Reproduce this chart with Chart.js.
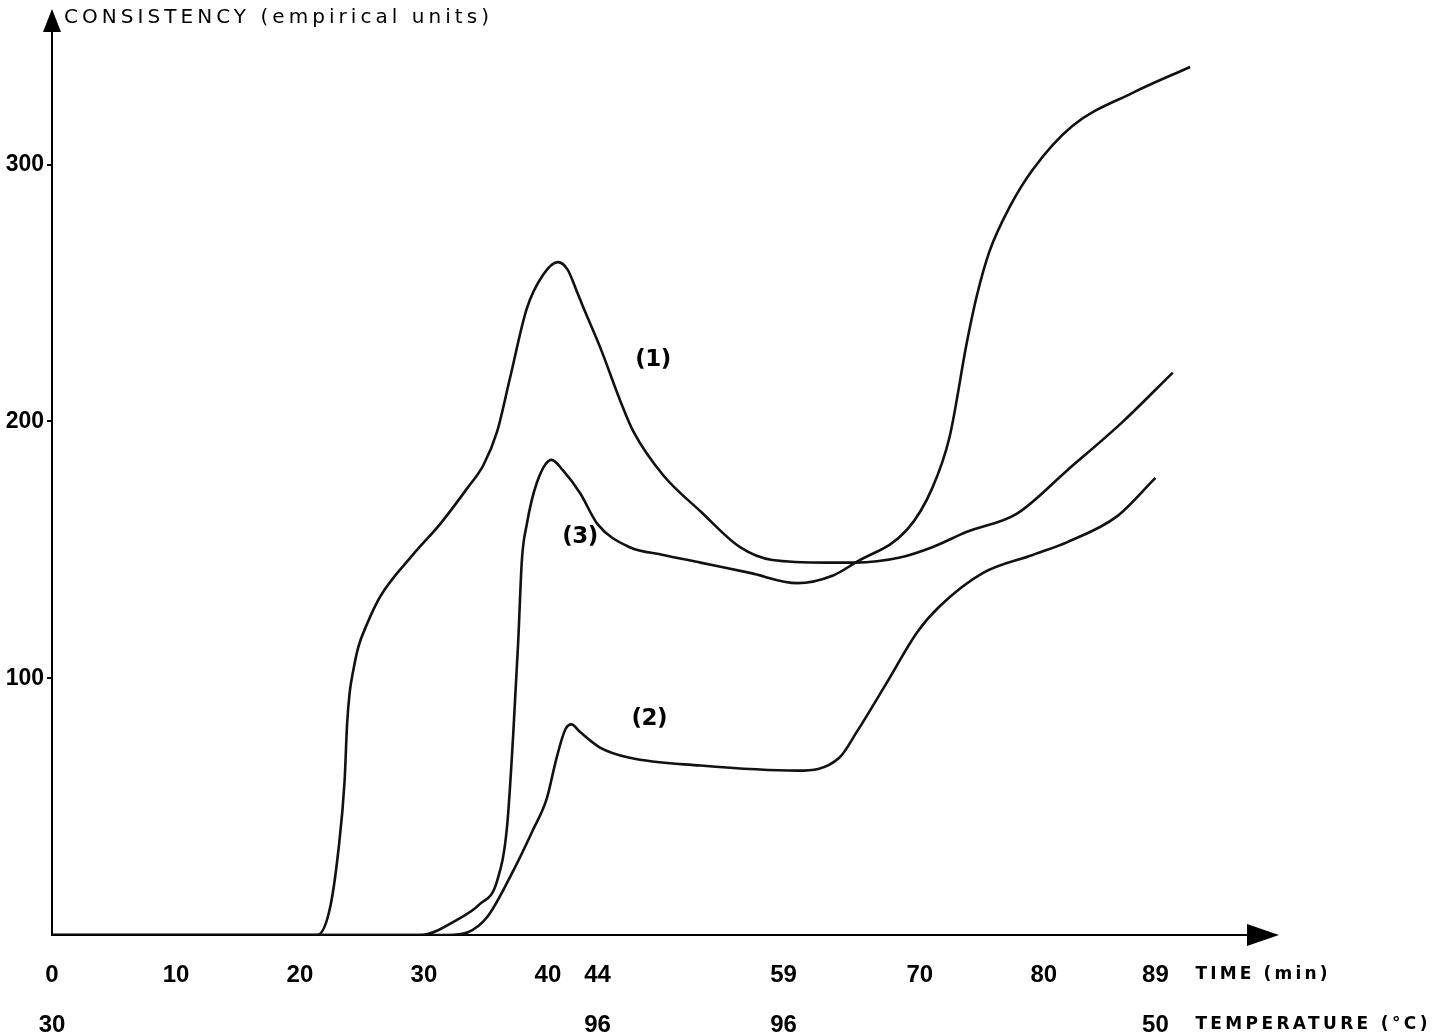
<!DOCTYPE html>
<html>
<head>
<meta charset="utf-8">
<title>Consistency curves</title>
<script src="https://cdn.jsdelivr.net/npm/chart.js@4.4.1/dist/chart.umd.min.js"></script>
<style>
    html, body { margin: 0; padding: 0; background: #fff; overflow: hidden; }
    #wrap { width: 1434px; height: 1036px; }
</style>
</head>
<body>
<div id="wrap"><canvas id="consistency-chart" width="1434" height="1036"></canvas></div>
<script>
    "use strict";

    // Axis ticks
    var timeTicks = [0, 10, 20, 30, 40, 44, 59, 70, 80, 89];
    var tempTicks = ["30", "", "", "", "", "96", "96", "", "", "50"];
    var consistencyTicks = [100, 200, 300];

    // Curve (1)
    var curve1Time = [0, 21.4, 22.4, 23.1, 23.6, 23.8, 24.0, 24.3, 24.7, 25.4, 26.5, 29.1, 31.3, 33.5, 34.8, 35.9, 36.9, 38.3, 39.6, 40.8,
        41.6, 42.3, 42.8, 44.2, 46.0, 46.9, 49.3, 52.3, 55.5, 58.1, 62.5, 64.8, 68.4, 71.0, 73.8, 77.8, 81.9, 86.4, 90.4];
    var curve1Value = [0, 0, 10, 33, 60, 82, 94, 103, 112, 121, 132, 148, 160, 174, 183, 196, 216, 244, 257, 262,
        259, 251, 245, 229, 206, 196, 179, 165, 151, 146, 145, 145, 147, 151, 157, 164, 181, 200, 219];

    // Curve (2)
    var curve2Time = [0, 31.9, 33.5, 35.1, 37.2, 38.8, 39.9, 40.7, 41.4, 41.9, 42.6, 44.2, 46.6, 52.3, 60.1, 63.5, 64.9, 67.3, 69.8, 71.6,
        75.1, 79.1, 81.9, 85.9, 89.0];
    var curve2Value = [0, 0, 1, 7, 25, 41, 53, 69, 80, 82, 79, 73, 69, 66, 64, 69, 79, 98, 118, 128,
        141, 148, 153, 163, 178];

    // Curve (3)
    var curve3Time = [0, 29.7, 32.7, 34.5, 35.9, 36.7, 37.2, 37.6, 37.9, 38.3, 39.1, 40.3, 41.2, 42.6, 44.0, 46.6, 49.3, 52.3, 56.3, 60.1,
        63.0, 64.8, 69.0, 71.0, 72.4, 73.8, 74.6, 75.6, 77.3, 79.1, 82.3, 87.2, 91.8];
    var curve3Value = [0, 0, 6, 12, 21, 42, 78, 114, 146, 160, 176, 185, 181, 172, 160, 151, 148, 145, 141, 137,
        140, 145, 158, 174, 194, 231, 249, 266, 284, 298, 315, 328, 338];

    // Curve labels (placed in data units)
    var curveLabels = ["(1)", "(2)", "(3)"];
    var curveLabelTime = [48.5, 48.2, 42.6];
    var curveLabelValue = [224, 84, 155];

    var labelFont = "'Liberation Sans', Arial, sans-serif";
    var tickPadding = 15;
    var tickLineHeight = 50;

    function toPoints(times, values) {
        return times.map(function (t, i) {
            return { x: t, y: values[i] };
        });
    }

    // Text stretched to a given width with letter spacing
    function drawSpaced(ctx, text, x, y, width) {
        ctx.letterSpacing = "0px";
        var w = ctx.measureText(text).width;
        var spacing = (width - w) / Math.max(text.length - 1, 1);
        ctx.letterSpacing = spacing + "px";
        ctx.fillText(text, x, y);
        ctx.letterSpacing = "0px";
    }

    // Arrows, axis titles and curve labels
    var decorations = {
        id: "decorations",
        afterDraw: function (chart) {
            var ctx = chart.ctx;
            var area = chart.chartArea;
            var xScale = chart.scales.x;
            var yScale = chart.scales.y;
            ctx.save();
            ctx.fillStyle = "#000";

            ctx.beginPath();
            ctx.moveTo(area.left, area.top - 22);
            ctx.lineTo(area.left - 9, area.top + 1);
            ctx.lineTo(area.left + 9, area.top + 1);
            ctx.closePath();
            ctx.fill();

            ctx.beginPath();
            ctx.moveTo(area.right + 12, area.bottom);
            ctx.lineTo(area.right - 20, area.bottom - 11);
            ctx.lineTo(area.right - 20, area.bottom + 11);
            ctx.closePath();
            ctx.fill();

            ctx.textBaseline = "middle";
            ctx.textAlign = "left";
            ctx.font = "20px 'DejaVu Sans', sans-serif";
            drawSpaced(ctx, "CONSISTENCY (empirical units)", area.left + 12, area.top - 13, 425);

            var row1 = xScale.top + tickPadding + tickLineHeight / 2;
            var x89 = xScale.getPixelForValue(89) + 40;
            ctx.font = "bold 17px 'DejaVu Sans', sans-serif";
            drawSpaced(ctx, "TIME (min)", x89, row1, 132);
            drawSpaced(ctx, "TEMPERATURE (°C)", x89, row1 + tickLineHeight, 232);

            ctx.font = "bold 23px 'DejaVu Sans', sans-serif";
            curveLabels.forEach(function (label, i) {
                var px = xScale.getPixelForValue(curveLabelTime[i]);
                var py = yScale.getPixelForValue(curveLabelValue[i]);
                drawSpaced(ctx, label, px - 18, py, 36);
            });
            ctx.restore();
        }
    };

    var lineStyle = {
        borderColor: "#111",
        borderWidth: 2.6,
        pointRadius: 0,
        fill: false,
        cubicInterpolationMode: "monotone"
    };

    var ctx1 = document.getElementById("consistency-chart").getContext("2d");
    var myChart = new Chart(ctx1, {
        type: "line",
        data: {
            datasets: [
                Object.assign({ label: "(1)", data: toPoints(curve1Time, curve1Value) }, lineStyle),
                Object.assign({ label: "(2)", data: toPoints(curve2Time, curve2Value) }, lineStyle),
                Object.assign({ label: "(3)", data: toPoints(curve3Time, curve3Value) }, lineStyle)
            ]
        },
        options: {
            responsive: false,
            animation: false,
            layout: { padding: { top: 31, right: 167, left: 0, bottom: 0 } },
            plugins: {
                legend: { display: false },
                tooltip: { enabled: false }
            },
            scales: {
                x: {
                    type: "linear",
                    min: 0,
                    max: 98,
                    afterBuildTicks: function (scale) {
                        scale.ticks = timeTicks.map(function (v) { return { value: v }; });
                    },
                    afterFit: function (scale) { scale.height = 101; },
                    grid: { display: false, drawTicks: false },
                    border: { color: "#000", width: 2 },
                    ticks: {
                        color: "#000",
                        padding: tickPadding,
                        autoSkip: false,
                        maxRotation: 0,
                        font: { family: labelFont, size: 24, weight: "bold", lineHeight: tickLineHeight + "px" },
                        callback: function (value, index) {
                            return [String(value), tempTicks[index]];
                        }
                    }
                },
                y: {
                    type: "linear",
                    min: 0,
                    max: 352,
                    afterBuildTicks: function (scale) {
                        scale.ticks = consistencyTicks.map(function (v) { return { value: v }; });
                    },
                    afterFit: function (scale) { scale.width = 52; },
                    grid: { drawOnChartArea: false, drawTicks: true, tickLength: 5, color: "#000", lineWidth: 2 },
                    border: { color: "#000", width: 2 },
                    ticks: {
                        color: "#000",
                        padding: 3,
                        font: { family: labelFont, size: 23, weight: "bold" }
                    }
                }
            }
        },
        plugins: [decorations]
    });
</script>
</body>
</html>
